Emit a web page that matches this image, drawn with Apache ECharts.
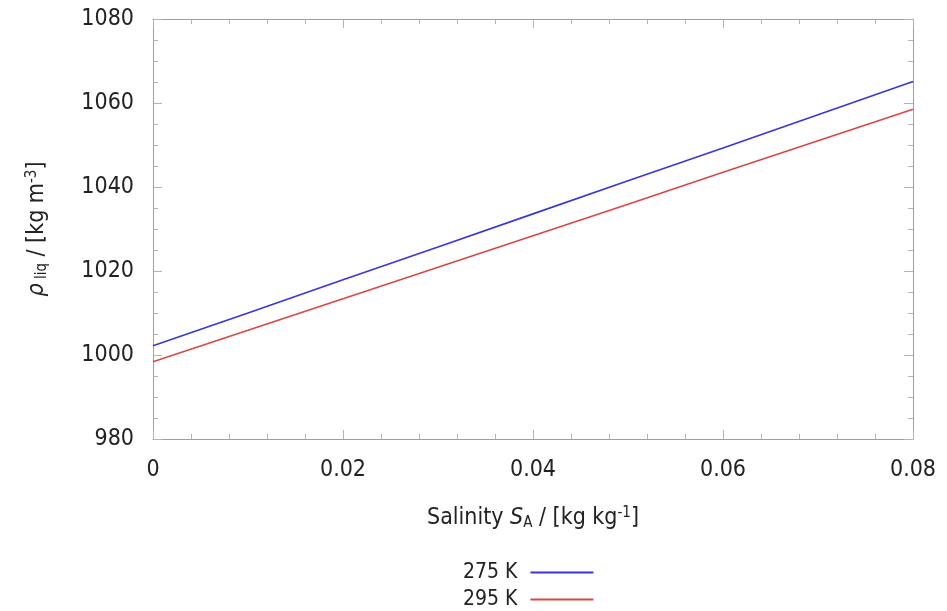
<!DOCTYPE html>
<html>
<head>
<meta charset="utf-8">
<script src="https://cdn.jsdelivr.net/npm/echarts@6/dist/echarts.min.js"></script>
<style>
  html, body { margin: 0; padding: 0; background: #fff; }
  #chart { width: 947px; height: 611px; }
</style>
</head>
<body>
<div id="chart"></div>
<script>
  // salinity in kg/kg
  const salinity = [0, 0.01, 0.02, 0.03, 0.04, 0.05, 0.06, 0.07, 0.08];
  // density in kg/m3
  const rho275 = [1002.2, 1010.0, 1017.9, 1025.7, 1033.6, 1041.5, 1049.3, 1057.2, 1065.1];
  const rho295 = [998.4, 1005.9, 1013.4, 1020.9, 1028.4, 1035.9, 1043.5, 1051.0, 1058.5];
  const seriesNames = ["275 K", "295 K"];
  const xTicks = [0, 0.02, 0.04, 0.06, 0.08];
  const yTicks = [980, 1000, 1020, 1040, 1060, 1080];

  const font = "'DejaVu Sans Condensed', 'DejaVu Sans'";
  const axisGray = "#a0a0a0";
  const tickGray = "#b4b4b4";
  const ink = "#222";

  const pairs = arr => salinity.map((s, i) => [s, arr[i]]);

  const frameAxis = (extra, split) => Object.assign({
    type: "value",
    axisLine: { show: true, onZero: false, lineStyle: { color: axisGray, width: 1 } },
    axisTick: { show: true, inside: true, length: 9, lineStyle: { color: tickGray } },
    minorTick: { show: true, splitNumber: split, length: 5, lineStyle: { color: tickGray } },
    splitLine: { show: false },
  }, extra);

  const nameRich = {
    t: { fontFamily: font, fontSize: 23, color: ink },
    i: { fontFamily: font, fontSize: 23, fontStyle: "italic", color: ink },
    sub: { fontFamily: font, fontSize: 15, color: ink, verticalAlign: "bottom", padding: [10, 0, 0, 0] },
    sup: { fontFamily: font, fontSize: 15, color: ink, verticalAlign: "top", padding: [0, 0, 10, 0] },
  };

  // one legend row per series, stacked like the gnuplot key
  const legendRow = (name, i) => ({
    left: 463,
    top: 562 + i * 27,
    padding: 0,
    align: "right",
    icon: "rect",
    itemWidth: 63,
    itemHeight: 2,
    textStyle: { fontFamily: font, fontSize: 21, color: ink, padding: [0, 8, 0, 0] },
    data: [name],
  });

  const chart = echarts.init(document.getElementById("chart"), null, { renderer: "canvas" });
  chart.setOption({
    animation: false,
    textStyle: { fontFamily: font },
    grid: { left: 153, right: 34, top: 19, bottom: 172 },
    legend: seriesNames.map(legendRow),
    xAxis: [
      frameAxis({
        min: 0, max: 0.08, interval: 0.02,
        axisLabel: {
          fontFamily: font, fontSize: 23, color: ink, margin: 20,
          formatter: v => (xTicks.includes(+v.toFixed(2)) ? (v === 0 ? "0" : String(+v.toFixed(2))) : ""),
        },
        name: "{t|Salinity }{i|S}{sub|A}{t| / [kg kg}{sup|-1}{t|]}",
        nameLocation: "middle",
        nameGap: 67,
        nameTextStyle: { fontFamily: font, fontSize: 23, color: ink, rich: nameRich },
      }, 5),
      frameAxis({
        position: "top", min: 0, max: 0.08, interval: 0.02,
        axisLabel: { show: false },
      }, 5),
    ],
    yAxis: [
      frameAxis({
        min: 980, max: 1080, interval: 20,
        axisLabel: {
          fontFamily: font, fontSize: 23, color: ink, margin: 19,
          formatter: v => (yTicks.includes(v) ? String(v) : ""),
        },
        name: "{i|ρ}{sub| liq}{t| / [kg m}{sup|-3}{t|]}",
        nameLocation: "middle",
        nameGap: 103,
        nameRotate: 90,
        nameTextStyle: { fontFamily: font, fontSize: 23, color: ink, rich: nameRich },
      }, 4),
      frameAxis({
        position: "right", min: 980, max: 1080, interval: 20,
        axisLabel: { show: false },
      }, 4),
    ],
    series: [
      {
        name: seriesNames[0],
        type: "line",
        data: pairs(rho275),
        showSymbol: false,
        symbol: "none",
        lineStyle: { color: "#3636dc", width: 1.6 },
        itemStyle: { color: "#3636dc" },
      },
      {
        name: seriesNames[1],
        type: "line",
        data: pairs(rho295),
        showSymbol: false,
        symbol: "none",
        lineStyle: { color: "#dc4646", width: 1.6 },
        itemStyle: { color: "#dc4646" },
      },
    ],
  });
</script>
</body>
</html>
